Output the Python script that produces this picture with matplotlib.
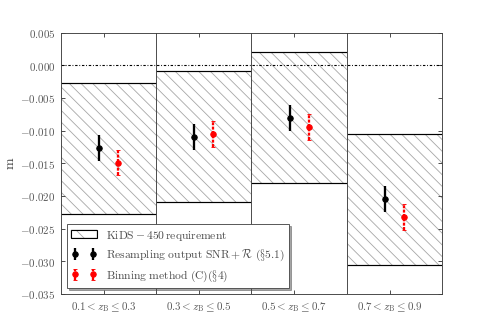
import numpy as np
import matplotlib
matplotlib.use('Agg')
from matplotlib import pyplot as plt
from matplotlib.patches import Patch
from matplotlib.collections import LineCollection
from matplotlib.transforms import IdentityTransform
from matplotlib.legend_handler import HandlerTuple
from matplotlib.ticker import FuncFormatter

plt.rcParams['font.family'] = 'serif'
plt.rcParams['mathtext.fontset'] = 'cm'
plt.rcParams['font.size'] = 12
plt.rcParams['hatch.linewidth'] = 0.9
plt.rcParams['hatch.color'] = '0.65'

# redshift bins
bin_labels = [r'$0.1<z_{\rm B}\leq0.3$', r'$0.3<z_{\rm B}\leq0.5$',
              r'$0.5<z_{\rm B}\leq0.7$', r'$0.7<z_{\rm B}\leq0.9$']
# resampling output SNR + R
m_resamp = [-0.0127, -0.0109, -0.0080, -0.0205]
err_resamp = [0.0020, 0.0020, 0.0020, 0.0020]
# binning method (C)
m_binning = [-0.0149, -0.0105, -0.0094, -0.0232]
err_binning = [0.0019, 0.0020, 0.0020, 0.0020]
# KiDS-450 requirement band (lower, upper)
req_low = [-0.0227, -0.0209, -0.0180, -0.0305]
req_high = [-0.0027, -0.0008, 0.0020, -0.0105]

fig = plt.figure(figsize=(491.3 / 66, 327.3 / 66), dpi=66)
ax = fig.add_axes([0.1242, 0.1009, 0.7754, 0.7981])
ax.set_xlim(0, 4)
ax.set_ylim(-0.035, 0.005)

x = np.arange(len(bin_labels))
heights = np.array(req_high) - np.array(req_low)
bars = ax.bar(x, heights, bottom=req_low, width=1.0, align='edge', fill=False,
              linewidth=0, zorder=1)

# diagonal hatching, drawn in pixel space and clipped to each band
spacing = 11.7
for p in bars:
    (x0, y0), (x1, y1) = ax.transData.transform([[p.get_x(), p.get_y()],
                                                 [p.get_x() + p.get_width(), p.get_y() + p.get_height()]])
    segs = []
    c = x0 + y0 - (y1 - y0)
    while c < x1 + y1 + spacing:
        segs.append([(c - y1 - 50, y1 + 50), (c - y0 + 50, y0 - 50)])
        c += spacing
    lc = LineCollection(segs, colors='0.65', linewidths=0.9, transform=IdentityTransform(), zorder=1)
    ax.add_collection(lc, autolim=False)
    lc.set_clip_path(p)

ax.hlines(req_low, x, x + 1, colors='k', linewidth=1.3, zorder=2)
ax.hlines(req_high, x, x + 1, colors='k', linewidth=1.3, zorder=2)
for xb in x[1:]:
    ax.axvline(xb, color='0.25', linewidth=1.0, zorder=2)

ax.axhline(0.0, color='k', linestyle=(0, (2.2, 1.6, 0.8, 1.6)), linewidth=1.2, zorder=2)

eb1 = ax.errorbar(x + 0.4, m_resamp, yerr=err_resamp, fmt='o', color='k',
                  markersize=6, elinewidth=2.5, capsize=0, zorder=4)
eb2 = ax.errorbar(x + 0.6, m_binning, yerr=err_binning, fmt='o', color='red',
                  markersize=6, elinewidth=2.5, capsize=2, capthick=1, zorder=4)
eb2[-1][0].set_linestyle((0, (1.3, 0.6)))

ax.set_yticks(np.arange(-0.035, 0.0051, 0.005))
ax.yaxis.set_major_formatter(FuncFormatter(lambda v, p: r'$%.3f$' % (0.0 if abs(v) < 1e-9 else v)))
ax.set_xticks(x + 0.45)
ax.set_xticklabels(bin_labels)
ax.tick_params(direction='in', top=True, right=True, length=4, width=1, colors='0.25',
               labelcolor='0.35', pad=6)
for s in ax.spines.values():
    s.set_color('0.25')
    s.set_linewidth(1.0)
ax.set_ylabel(r'$\rm m$', color='0.25', fontsize=15, labelpad=4)

h_req = (Patch(facecolor='white', edgecolor='0.65', hatch='\\', linewidth=0.5),
         Patch(fill=False, edgecolor='k', linewidth=1.2))
leg = ax.legend([h_req, eb1, eb2],
                [r'$\rm KiDS-450\,requirement$',
                 r'$\rm Resampling\ output\ SNR+\mathcal{R}\ (\S5.1)$',
                 r'$\rm Binning\ method\ (C)(\S4)$'],
                handler_map={tuple: HandlerTuple(ndivide=1, pad=0)},
                loc='lower left', numpoints=2, fancybox=False, shadow=True,
                framealpha=1, edgecolor='0.3', fontsize=12.6, handlelength=2.2,
                labelspacing=0.45)
for t in leg.get_texts():
    t.set_color('0.3')

fig.savefig('out.png', dpi=66)
